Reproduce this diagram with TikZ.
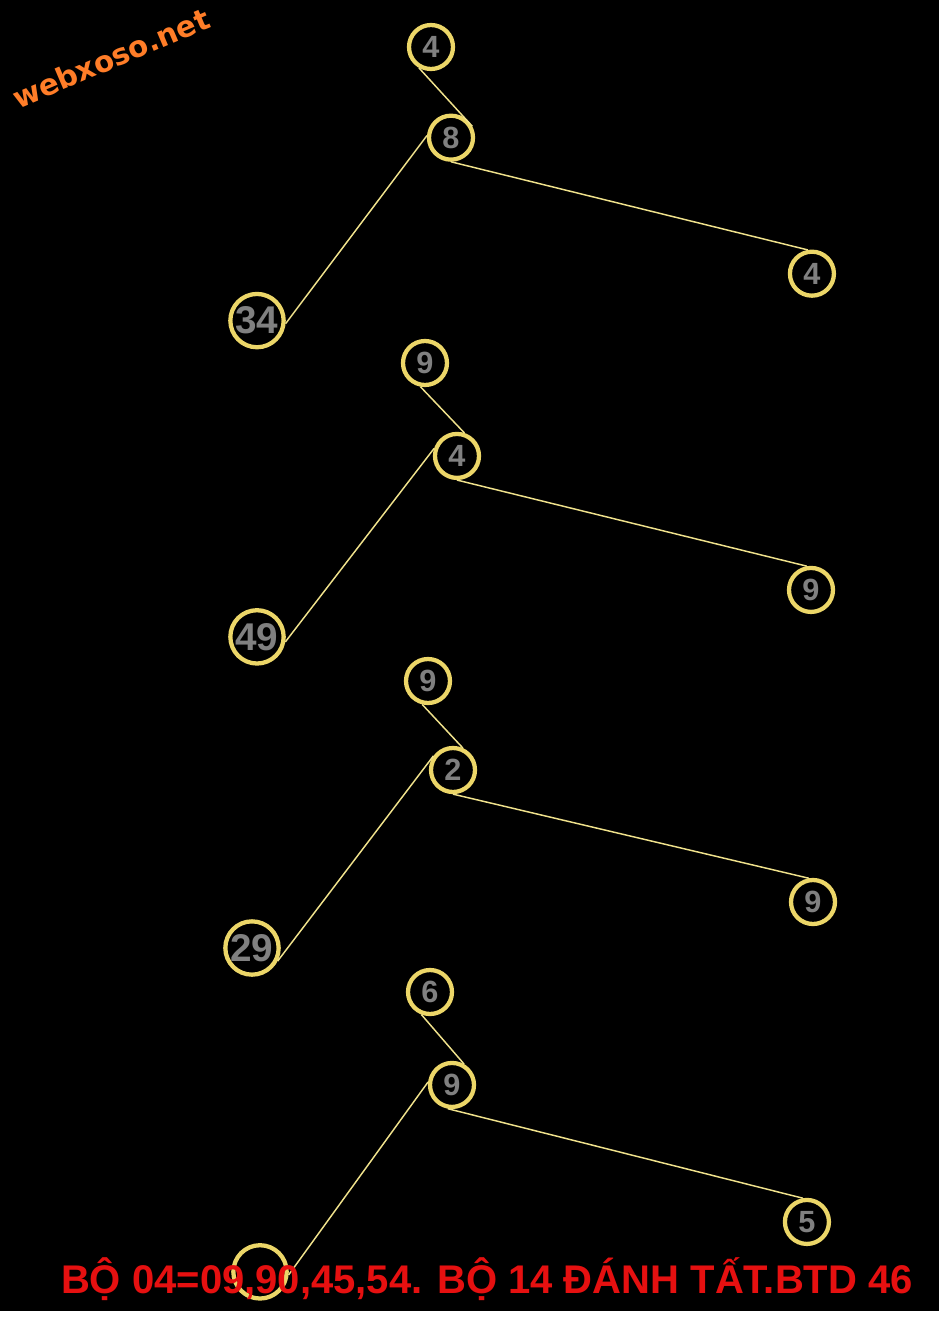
\documentclass[tikz,border=0pt]{standalone}
\usepackage{fontspec}
\setmainfont{Liberation Sans}
\newfontfamily\numfont{Liberation Sans}
\newfontfamily\notefont{Liberation Sans}
\newfontfamily\markfont{DejaVu Sans}
\usetikzlibrary{positioning}

\definecolor{ringyellow}{RGB}{236,214,104}
\definecolor{lineyellow}{RGB}{240,226,140}
\definecolor{digitgray}{RGB}{128,128,128}
\definecolor{notered}{RGB}{230,16,16}
\definecolor{markorange}{RGB}{255,125,40}

\tikzset{
node distance=68pt,
ball/.style={circle, draw=ringyellow, line width=3.2pt, fill=black, text=digitgray,
  minimum size=33pt, inner sep=0pt, font=\numfont\bfseries\fontsize{23}{23}\selectfont},
bigball/.style={ball, minimum size=40pt, font=\numfont\bfseries\fontsize{29}{29}\selectfont},
link/.style={draw=lineyellow, line width=1.1pt},
}

\begin{document}
\begin{tikzpicture}[x=0.75pt,y=-0.75pt]
    \useasboundingbox (0,0) rectangle (939,1317);
    \fill[black] (0,0) rectangle (939,1311);
    \fill[white] (0,1311) rectangle (939,1317);

    \node[text=markorange, rotate=23, font=\markfont\bfseries\fontsize{22}{22}\selectfont] (mark) at (111,58) {webxoso.net};

    %first
    \node[ball] (t1) at (431,47) {4};
    \node[ball,xshift=15pt,below of=t1] (m1) {8};
    \node[bigball,xshift=-145.5pt,yshift=-69.2pt,below of=m1] (l1) {34};
    \node[ball,xshift=202.7pt,yshift=-102pt,right of=m1] (r1) {4};

    %second
    \node[ball] (t2) at (425,363) {9};
    \node[ball,xshift=24pt,yshift=-1.7pt,below of=t2] (m2) {4};
    \node[bigball,xshift=-150pt,yshift=-67.7pt,below of=m2] (l2) {49};
    \node[ball,xshift=197.5pt,yshift=-100.5pt,right of=m2] (r2) {9};

    %third
    \node[ball] (t3) at (428,681) {9};
    \node[ball,xshift=18.75pt,yshift=1.25pt,below of=t3] (m3) {2};
    \node[bigball,xshift=-150.75pt,yshift=-65.5pt,below of=m3] (l3) {29};
    \node[ball,xshift=202pt,yshift=-99pt,right of=m3] (r3) {9};

    %fourth
    \node[ball] (t4) at (430,992) {6};
    \node[ball,xshift=16.5pt,yshift=-1.7pt,below of=t4] (m4) {9};
    \node[bigball,xshift=-144pt,yshift=-72.2pt,below of=m4] (l4) {};
    \node[ball,xshift=198.2pt,yshift=-102.75pt,right of=m4] (r4) {5};

    \draw[link] (t1.-120) to (m1.28);
    \draw[link] (m1.175) to (l1.-6);
    \draw[link] (m1.south) to (r1.100);
    \draw[link] (t2.-101) to (m2.72);
    \draw[link] (m2.162) to (l2.-10);
    \draw[link] (m2.south) to (r2.100);
    \draw[link] (t3.-104) to (m3.66);
    \draw[link] (m3.144) to (l3.-27);
    \draw[link] (m3.south) to (r3.100);
    \draw[link] (t4.-111) to (m4.60);
    \draw[link] (m4.173) to (l4.-6);
    \draw[link] (m4.-100) to (r4.100);

    \node[anchor=base, text=notered, font=\notefont\bfseries\fontsize{30}{30}\selectfont] (note) at (487,1293) {BỘ 04=09,90,45,54. BỘ 14 ĐÁNH TẤT.BTD 46};

\end{tikzpicture}
\end{document}
